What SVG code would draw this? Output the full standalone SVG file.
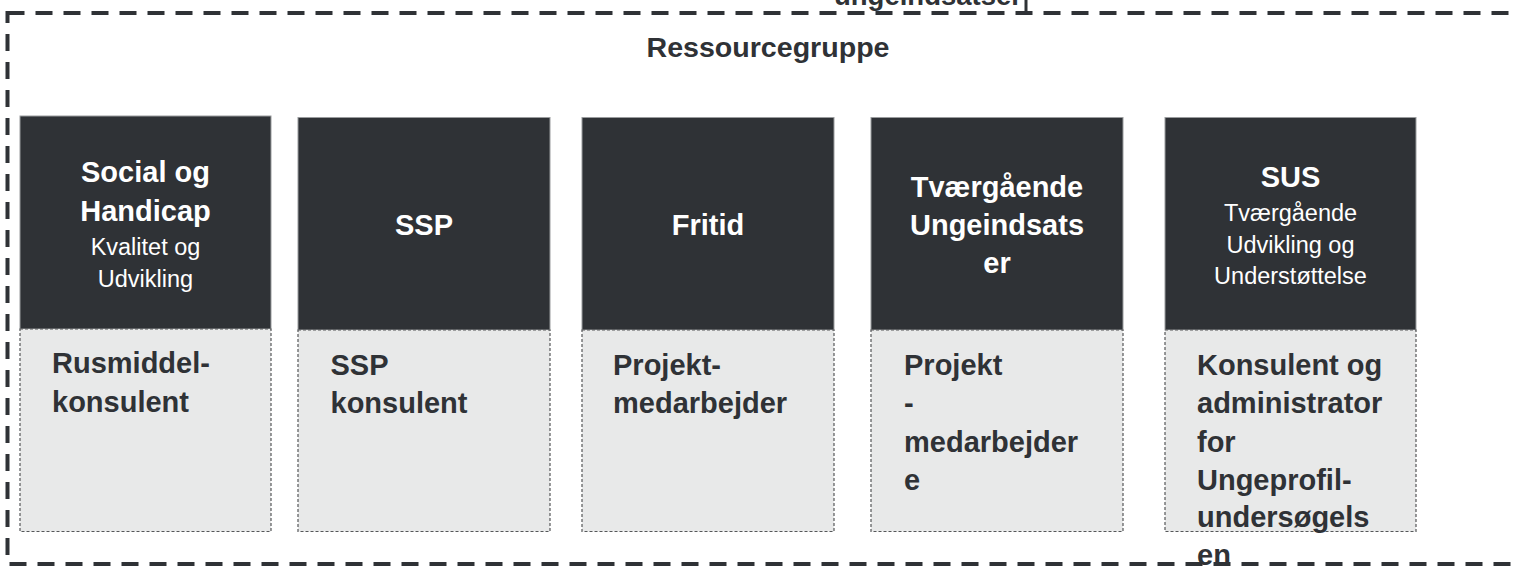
<svg xmlns="http://www.w3.org/2000/svg" width="1516" height="569" viewBox="0 0 1516 569">
  <style>
    .dark { fill: #2f3236; stroke: #9a9c9e; stroke-width: 1; }
    .light { fill: #e8e9e9; stroke: #555759; stroke-width: 1.2; stroke-dasharray: 3 2; }
    .hb { font-family: "Liberation Sans", Arial, sans-serif; font-weight: bold; font-size: 29px; fill: #ffffff; text-anchor: middle; }
    .hr { font-family: "Liberation Sans", Arial, sans-serif; font-size: 23.5px; fill: #ffffff; text-anchor: middle; }
    .lb { font-family: "Liberation Sans", Arial, sans-serif; font-weight: bold; font-size: 29px; fill: #2f3236; }
    .title { font-family: "Liberation Sans", Arial, sans-serif; font-weight: bold; font-size: 27px; fill: #2f3236; text-anchor: middle; }
    .border { fill: none; stroke: #2f3236; stroke-width: 4; stroke-dasharray: 17 11; }
  </style>

  <g id="group-ressourcegruppe">
    <rect class="border" x="7.5" y="13" width="1540" height="551"/>
    <line x1="1026" y1="0" x2="1026" y2="15" stroke="#2f3236" stroke-width="3"/>
    <text class="title" x="928" y="5" textLength="188" lengthAdjust="spacingAndGlyphs">ungeindsatser</text>
    <text class="title" x="768" y="57" textLength="243" lengthAdjust="spacingAndGlyphs">Ressourcegruppe</text>
  </g>

  <g id="node-social">
    <rect class="dark" x="20" y="116" width="251" height="213"/>
    <rect class="light" x="20" y="329" width="251" height="202.5"/>
    <text class="hb" x="145.5" y="181.7">Social og</text>
    <text class="hb" x="145.5" y="220.7">Handicap</text>
    <text class="hr" x="145.5" y="255">Kvalitet og</text>
    <text class="hr" x="145.5" y="286.7">Udvikling</text>
    <text class="lb" x="52" y="373.3">Rusmiddel-</text>
    <text class="lb" x="52" y="411.7">konsulent</text>
  </g>

  <g id="node-ssp">
    <rect class="dark" x="298" y="117.5" width="252" height="212.5"/>
    <rect class="light" x="298" y="330" width="252" height="201.5"/>
    <text class="hb" x="424" y="235">SSP</text>
    <text class="lb" x="330.5" y="375">SSP</text>
    <text class="lb" x="330.5" y="413.3">konsulent</text>
  </g>

  <g id="node-fritid">
    <rect class="dark" x="582" y="117.5" width="252" height="212.5"/>
    <rect class="light" x="582" y="330" width="252" height="201.5"/>
    <text class="hb" x="708" y="235">Fritid</text>
    <text class="lb" x="613" y="375">Projekt-</text>
    <text class="lb" x="613" y="413.3">medarbejder</text>
  </g>

  <g id="node-tvaergaaende">
    <rect class="dark" x="871" y="117.5" width="252" height="212.5"/>
    <rect class="light" x="871" y="330" width="252" height="201.5"/>
    <text class="hb" x="997" y="196.7">Tværgående</text>
    <text class="hb" x="997" y="235">Ungeindsats</text>
    <text class="hb" x="997" y="273.3">er</text>
    <text class="lb" x="904" y="375">Projekt</text>
    <text class="lb" x="904" y="413.3">-</text>
    <text class="lb" x="904" y="451.7">medarbejder</text>
    <text class="lb" x="904" y="490">e</text>
  </g>

  <g id="node-sus">
    <rect class="dark" x="1165" y="117.5" width="251" height="212.5"/>
    <rect class="light" x="1165" y="330" width="251" height="201.5"/>
    <text class="hb" x="1290.5" y="187.3">SUS</text>
    <text class="hr" x="1290.5" y="220.7">Tværgående</text>
    <text class="hr" x="1290.5" y="253.3">Udvikling og</text>
    <text class="hr" x="1290.5" y="284">Understøttelse</text>
    <text class="lb" x="1197" y="375">Konsulent og</text>
    <text class="lb" x="1197" y="413.3">administrator</text>
    <text class="lb" x="1197" y="451.7">for</text>
    <text class="lb" x="1197" y="490">Ungeprofil-</text>
    <text class="lb" x="1197" y="526.7">undersøgels</text>
    <text class="lb" x="1197" y="565">en</text>
  </g>

  <g id="connectors"/>
</svg>
